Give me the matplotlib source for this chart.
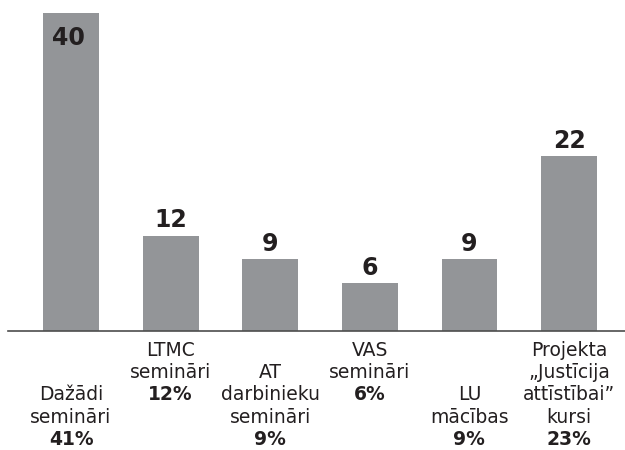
import matplotlib.pyplot as plt
from matplotlib.transforms import blended_transform_factory

# chart data
values = [40, 12, 9, 6, 9, 22]
shares = ['41%', '12%', '9%', '6%', '9%', '23%']
names = [
    ['Dažādi', 'semināri'],
    ['LTMC', 'semināri'],
    ['AT', 'darbinieku', 'semināri'],
    ['VAS', 'semināri'],
    ['LU', 'mācības'],
    ['Projekta', '„Justīcija', 'attīstībai”', 'kursi'],
]

bar_color = '#939598'
text_color = '#231f20'

fig = plt.figure(figsize=(6.25, 4.5), dpi=100)
W, H = 625, 450
# axes placed in pixels: left 8, right 625, baseline 331, top (value 40) 13
ax = fig.add_axes([8 / W, (H - 331) / H, 617 / W, 318 / H])

x = list(range(len(values)))
ax.bar(x, values, width=0.56, color=bar_color, zorder=2)
ax.set_xlim(-0.633, 5.562)
ax.set_ylim(0, 40)

for side in ['top', 'right', 'left']:
    ax.spines[side].set_visible(False)
ax.spines['bottom'].set_color('#4d4d4d')
ax.spines['bottom'].set_linewidth(1.2)
ax.spines['bottom'].set_zorder(3)
ax.set_xticks([])
ax.set_yticks([])

# value labels: above the bar, or inside when the bar hits the top
for xi, v in zip(x, values):
    if v >= 40:
        ax.annotate(str(v), (xi, v), xytext=(-2, -23), textcoords='offset points',
                    ha='center', va='baseline', fontsize=17, fontweight='heavy',
                    color=text_color)
    else:
        ax.annotate(str(v), (xi, v), xytext=(0, 6), textcoords='offset points',
                    ha='center', va='baseline', fontsize=17, fontweight='heavy',
                    color=text_color)

# category labels, staggered on text rows below the axis
trans = blended_transform_factory(ax.transData, fig.transFigure)
row_base = [356, 378, 400, 423, 445]   # baselines in pixels from top
last_row = [4, 2, 4, 2, 4, 4]
for xi, lines, pct, end in zip(x, names, shares, last_row):
    all_lines = lines + [pct]
    start = end - len(all_lines) + 1
    for k, line in enumerate(all_lines):
        yb = row_base[start + k]
        bold = (k == len(all_lines) - 1)
        ax.text(xi, (H - yb) / H, line, transform=trans, ha='center',
                va='baseline', fontsize=13.5,
                fontweight='bold' if bold else 'normal', color=text_color)

fig.savefig('out.png', dpi=100)
